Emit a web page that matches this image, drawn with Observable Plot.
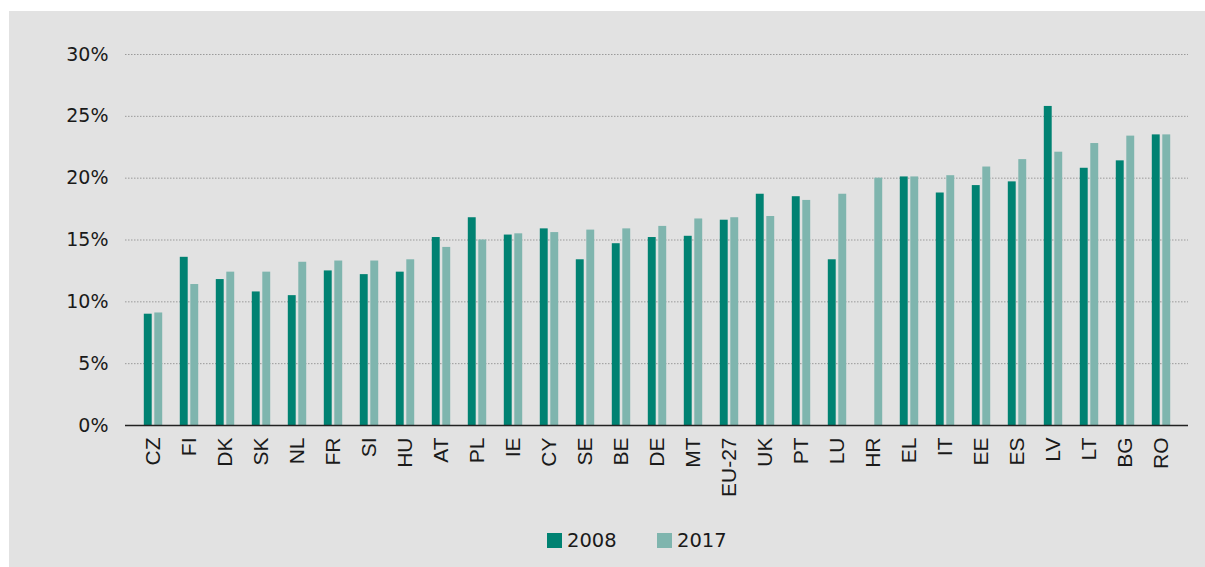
<!DOCTYPE html>
<html>
<head>
<meta charset="utf-8">
<script src="https://cdn.jsdelivr.net/npm/d3@7"></script>
<script src="https://cdn.jsdelivr.net/npm/@observablehq/plot@0.6"></script>
<style>
  html, body { margin: 0; padding: 0; background: #ffffff; }
  #panel { position: absolute; left: 9px; top: 11px; width: 1196px; height: 556px; background: #e2e2e2; overflow: hidden; }
  #chart { position: absolute; left: 0; top: 0; }
  .leg { position: absolute; top: 518px; display: flex; align-items: center; font-family: "DejaVu Sans", sans-serif; font-size: 19.5px; color: #1a1a1a; }
  .sw { width: 15px; height: 15px; margin-right: 5px; }
</style>
</head>
<body>
<div id="panel">
  <div id="chart"></div>
  <div class="leg" style="left:538px"><div class="sw" style="background:#008272"></div><span>2008</span></div>
  <div class="leg" style="left:648px"><div class="sw" style="background:#7fb5ae"></div><span>2017</span></div>
</div>
<script>
const countries = ["CZ","FI","DK","SK","NL","FR","SI","HU","AT","PL","IE","CY","SE","BE","DE","MT","EU-27","UK","PT","LU","HR","EL","IT","EE","ES","LV","LT","BG","RO"];
const v2008 = [9.0,13.6,11.8,10.8,10.5,12.5,12.2,12.4,15.2,16.8,15.4,15.9,13.4,14.7,15.2,15.3,16.6,18.7,18.5,13.4,null,20.1,18.8,19.4,19.7,25.8,20.8,21.4,23.5];
const v2017 = [9.1,11.4,12.4,12.4,13.2,13.3,13.3,13.4,14.4,15.0,15.5,15.6,15.8,15.9,16.1,16.7,16.8,16.9,18.2,18.7,20.0,20.1,20.2,20.9,21.5,22.1,22.8,23.4,23.5];
const yTicks = [0, 5, 10, 15, 20, 25, 30];
const colors = {"2008": "#008272", "2017": "#7fb5ae"};

const d08 = countries.map((c, i) => ({country: c, value: v2008[i]})).filter(d => d.value != null);
const d17 = countries.map((c, i) => ({country: c, value: v2017[i]}));

const chart = Plot.plot({
  width: 1196,
  height: 505,
  marginLeft: 116,
  marginRight: 17,
  marginTop: 43,
  marginBottom: 91,
  style: {background: "transparent", overflow: "visible"},
  x: {domain: countries, padding: 0, label: null},
  y: {domain: [0, 30], label: null},
  marks: [
    Plot.gridY(yTicks.filter(t => t > 0), {stroke: "#9a9a9a", strokeOpacity: 1, strokeDasharray: "1.5,1.5", strokeWidth: 1}),
    Plot.barY(d08, {x: "country", y: "value", fill: colors["2008"], insetLeft: 8.8, insetRight: 19.3}),
    Plot.barY(d17, {x: "country", y: "value", fill: colors["2017"], insetLeft: 19.3, insetRight: 8.8}),
    Plot.ruleY([0], {stroke: "#222", strokeWidth: 1.5}),
    Plot.axisY({ticks: yTicks, tickFormat: d => d + "%", tickSize: 0, tickPadding: 17, fontSize: 19, fontFamily: "'DejaVu Sans', sans-serif", fill: "#1a1a1a", label: null}),
    Plot.axisX({tickRotate: -90, tickSize: 0, tickPadding: 12, fontSize: 21, fontFamily: "'Liberation Sans', Arial, sans-serif", fill: "#1a1a1a", label: null})
  ]
});
document.getElementById("chart").appendChild(chart);
</script>
</body>
</html>
